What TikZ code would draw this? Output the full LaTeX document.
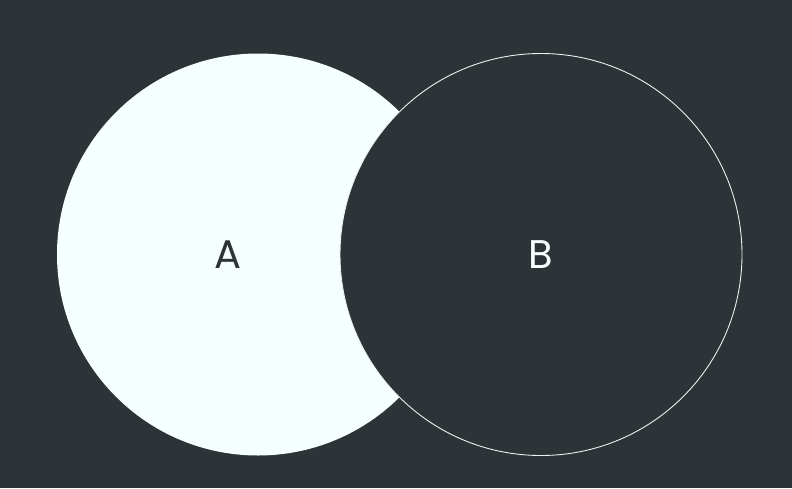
\documentclass[tikz,border=0pt]{standalone}
\usepackage{fontspec}
\setmainfont{Poppins}
\definecolor{bg}{HTML}{2D3336}
\definecolor{afill}{HTML}{F5FFFD}
\begin{document}
\begin{tikzpicture}[x=1pt,y=-1pt,
  setA/.style={circle,fill=afill,minimum size=402pt,inner sep=0pt,text=bg,font=\fontsize{40}{40}\selectfont},
  setB/.style={circle,fill=bg,draw=afill!90!gray,line width=0.9pt,minimum size=402pt,inner sep=0pt,text=afill,font=\fontsize{40}{40}\selectfont}]
\fill[bg] (0,0) rectangle (792,488);
\useasboundingbox (0,0) rectangle (792,488);
\node[setA] (A) at (258,254.5) {};
\node[setB] (B) at (541,254.5) {};
\node[text=bg,font=\fontsize{40}{40}\selectfont] (la) at (228,254.5) {A};
\node[text=afill,font=\fontsize{40}{40}\selectfont] (lb) at (541,254.5) {B};
\end{tikzpicture}
\end{document}
